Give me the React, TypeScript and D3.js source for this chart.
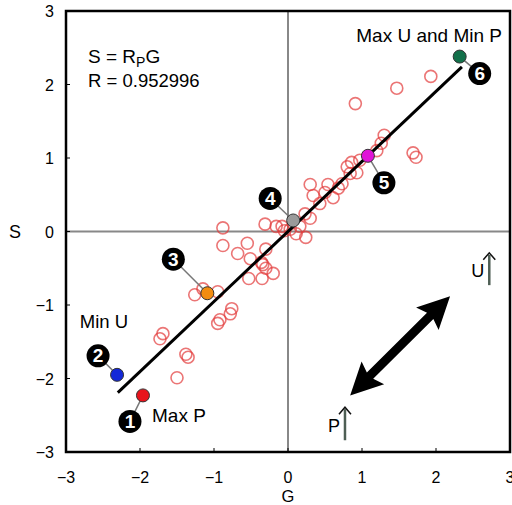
import * as d3 from 'd3';

// open circles: G (x) and S (y)
const gVals = [-1.50, -1.73, -1.69, -1.38, -1.35, -0.95, -0.92, -0.78, -0.76, -1.26, -1.15, -0.95,
  -0.88, -0.88, -0.68, -0.55, -0.51, -0.30, -0.34, -0.30, -0.36, -0.20, -0.53, -0.35, -0.31, -0.16,
  -0.08, -0.05, 0.03, 0.11, 0.24, 0.16, 0.23, 0.30, 0.43, 0.34, 0.30, 0.50, 0.54, 0.61, 0.68, 0.73,
  0.80, 0.84, 0.86, 0.93, 0.97, 1.20, 1.26, 1.30, 1.69, 1.73, 0.91, 1.47, 1.93];
const sVals = [-1.99, -1.46, -1.39, -1.67, -1.71, -1.25, -1.20, -1.12, -1.05, -0.86, -0.78, -0.82,
  0.05, -0.19, -0.30, -0.16, -0.37, -0.24, -0.45, -0.50, -0.42, -0.57, -0.64, -0.64, 0.10, 0.07,
  0.07, 0.01, 0.03, -0.03, -0.08, 0.07, 0.24, 0.18, 0.38, 0.49, 0.64, 0.53, 0.64, 0.46, 0.59, 0.65,
  0.88, 0.79, 0.94, 0.80, 0.97, 1.10, 1.20, 1.31, 1.07, 1.01, 1.74, 1.95, 2.11];

// highlighted points 1..6
const specialNums = ['1', '2', '3', '4', '5', '6'];
const specialG = [-1.96, -2.31, -1.09, 0.07, 1.08, 2.32];
const specialS = [-2.23, -1.95, -0.84, 0.15, 1.03, 2.38];
const specialColors = ['#e8141c', '#1428d8', '#f28c10', '#9a9a9a', '#e014d8', '#12704a'];
// label offsets from point in px
const labelDx = [-13, -19, -34, -23, 16, 20];
const labelDy = [26, -19, -34, -22, 27, 17];

const R = 0.952996;
const fitRange = [-2.3, 2.35];
const ticks = [-3, -2, -1, 0, 1, 2, 3];

const W = 512, H = 505;
const x = d3.scaleLinear().domain([-3, 3]).range([66, 510]);
const y = d3.scaleLinear().domain([-3, 3]).range([452, 11]);
const font = '"Liberation Sans", Arial, sans-serif';
const fmt = (t: number) => String(t).replace('-', '\u2212');

function thickArrow(x1: number, y1: number, x2: number, y2: number) {
  const dx = x2 - x1, dy = y2 - y1;
  const len = Math.hypot(dx, dy);
  const ux = dx / len, uy = dy / len, nx = -uy, ny = ux;
  const hl = 32, hw = 16, sw = 4.5;
  const p = (t: number, n: number) => [x1 + ux * t + nx * n, y1 + uy * t + ny * n].join(',');
  const pts = [p(0, 0), p(hl, hw), p(hl - 4, sw), p(len - hl + 4, sw), p(len - hl, hw), p(len, 0),
    p(len - hl, -hw), p(len - hl + 4, -sw), p(hl - 4, -sw), p(hl, -hw)];
  return 'M' + pts.join('L') + 'Z';
}

function UpArrow({ gx, s0, s1, label }: { gx: number; s0: number; s1: number; label: string }) {
  const px = x(gx), y0 = y(s0), y1 = y(s1);
  return (
    <g>
      <line x1={px} x2={px} y1={y0} y2={y1 + 2} stroke="#4e5e54" strokeWidth={2.5} />
      <path d={`M${px - 6},${y1 + 7}L${px},${y1}L${px + 6},${y1 + 7}`} fill="none" stroke="#111" strokeWidth={1.5} />
      <text x={px - 5} y={y0 - 8} textAnchor="end" fontSize={18} fontFamily={font}>{label}</text>
    </g>
  );
}

export default function App() {
  const fit = d3.line<number>().x(d => x(d)).y(d => y(R * d));
  return (
    <svg width={W} height={H} style={{ position: 'absolute', left: 0, top: 0, background: '#fff' }}>
      {/* zero lines */}
      <line x1={x(0)} x2={x(0)} y1={y(3)} y2={y(-3)} stroke="#888" strokeWidth={2} />
      <line x1={x(-3)} x2={x(3)} y1={y(0)} y2={y(0)} stroke="#888" strokeWidth={2} />

      {/* open circles */}
      {gVals.map((g, i) => (
        <circle key={i} cx={x(g)} cy={y(sVals[i])} r={6} fill="none" stroke="#e23a3a" strokeOpacity={0.7} strokeWidth={1.6} />
      ))}

      {/* fit line */}
      <path d={fit(fitRange) || ''} stroke="#000" strokeWidth={3} fill="none" />

      {/* leader lines */}
      {specialG.map((g, i) => (
        <line key={'l' + i} x1={x(g)} y1={y(specialS[i])} x2={x(g) + labelDx[i]} y2={y(specialS[i]) + labelDy[i]} stroke="#777" strokeWidth={1.5} />
      ))}
      {/* special points */}
      {specialG.map((g, i) => (
        <circle key={'s' + i} cx={x(g)} cy={y(specialS[i])} r={6.5} fill={specialColors[i]} stroke="#333" strokeWidth={1} />
      ))}
      {specialG.map((g, i) => (
        <g key={'n' + i} transform={`translate(${x(g) + labelDx[i]},${y(specialS[i]) + labelDy[i]})`}>
          <circle r={11.5} fill="#000" />
          <text y={6.5} textAnchor="middle" fill="#fff" fontWeight="bold" fontSize={19} fontFamily={font}>{specialNums[i]}</text>
        </g>
      ))}

      {/* text annotations */}
      <text x={152} y={422} fontSize={19} fontFamily={font}>Max P</text>
      <text x={104} y={328} textAnchor="middle" fontSize={18.5} fontFamily={font}>Min U</text>
      <text x={502} y={42} textAnchor="end" fontSize={19} fontFamily={font}>Max U and Min P</text>
      <text x={88} y={63} fontSize={19} fontFamily={font}>
        S = R<tspan fontSize={14} dy={4}>P</tspan><tspan dy={-4}>G</tspan>
      </text>
      <text x={88} y={87} fontSize={18.5} fontFamily={font}>R = {R}</text>

      {/* arrows */}
      <path d={thickArrow(x(0.84), y(-2.23), x(2.19), y(-0.88))} fill="#000" />
      <UpArrow gx={2.72} s0={-0.73} s1={-0.29} label="U" />
      <UpArrow gx={0.77} s0={-2.84} s1={-2.39} label="P" />

      {/* ticks */}
      {ticks.map(t => (
        <g key={'t' + t}>
          <line x1={x(t)} x2={x(t)} y1={y(-3)} y2={y(-3) - 4} stroke="#000" strokeWidth={1} />
          <line x1={x(-3)} x2={x(-3) + 4} y1={y(t)} y2={y(t)} stroke="#000" strokeWidth={1} />
          <text x={x(t)} y={483} textAnchor="middle" fontSize={16} fontFamily={font}>{fmt(t)}</text>
          <text x={54} y={y(t) + 6} textAnchor="end" fontSize={16} fontFamily={font}>{fmt(t)}</text>
        </g>
      ))}

      {/* frame */}
      <rect x={x(-3)} y={y(3)} width={x(3) - x(-3)} height={y(-3) - y(3)} fill="none" stroke="#000" strokeWidth={2.5} />

      {/* axis titles */}
      <text x={x(0)} y={501.5} textAnchor="middle" fontSize={16.5} fontFamily={font}>G</text>
      <text x={15} y={238} textAnchor="middle" fontSize={18} fontFamily={font}>S</text>
    </svg>
  );
}
